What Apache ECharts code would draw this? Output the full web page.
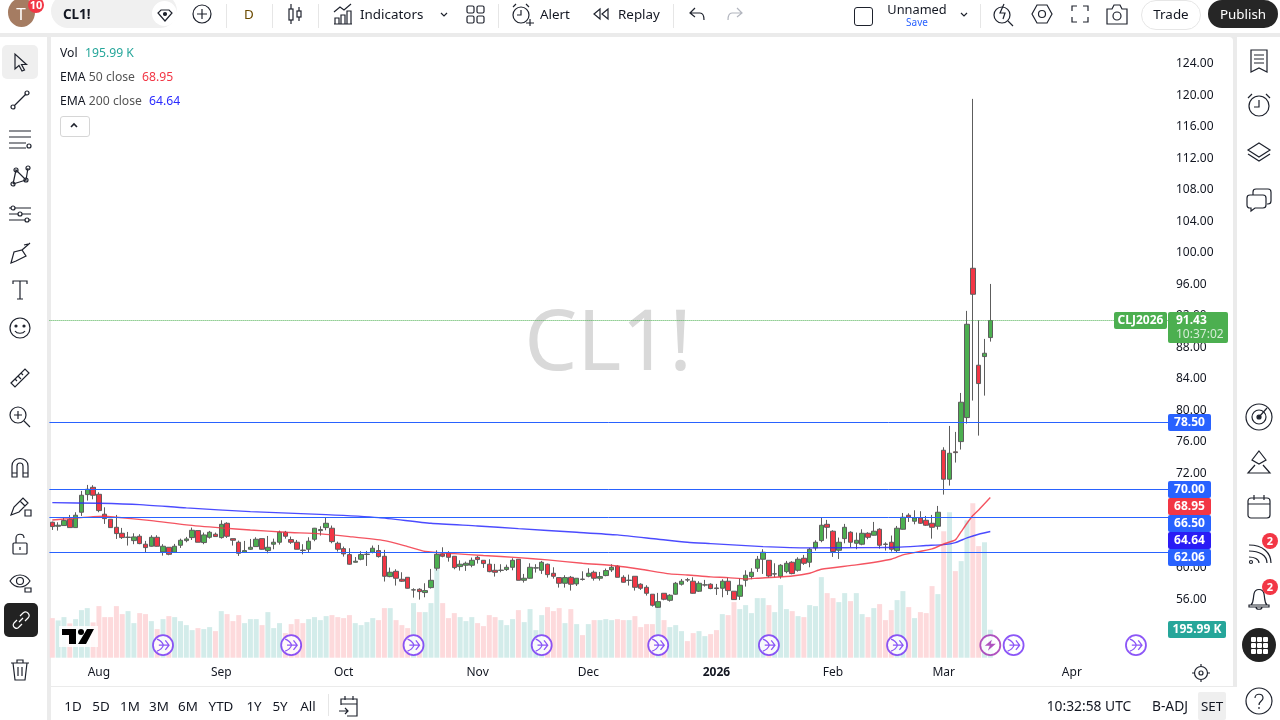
<!DOCTYPE html>
<html>
<head>
<meta charset="utf-8">
<title>CL1!</title>
<script src="https://cdn.jsdelivr.net/npm/echarts@6/dist/echarts.min.js"></script>
<style>
html, body { margin: 0; padding: 0; width: 1280px; height: 720px; overflow: hidden; background: #ebebeb; font-family: "Noto Sans", sans-serif; color: #131722; }
#panel { position: absolute; left: 51px; top: 37px; width: 1182px; height: 649px; background: #fff; border-radius: 0 4px 0 0; }
#top { position: absolute; left: 0; top: 0; width: 1280px; height: 33px; background: #fff; overflow: hidden; }
#side { position: absolute; left: 0; top: 37px; width: 47px; height: 683px; background: #fff; }
#rightbar { position: absolute; left: 1237px; top: 37px; width: 43px; height: 683px; background: #fff; }
#bottom { position: absolute; left: 51px; top: 687px; width: 1229px; height: 33px; background: #fff; }
#chart { position: absolute; left: 0; top: 0; width: 1280px; height: 720px; }
#over { position: absolute; left: 0; top: 0; width: 1280px; height: 720px; pointer-events: none; }
#over span, #over div { position: absolute; white-space: nowrap; }
#over svg { position: absolute; fill: none; stroke: #1e222d; stroke-width: 1.2; overflow: visible; }
.t { font-size: 13.4px; line-height: 16px; transform: translate(-50%, -50%); }
.l { font-size: 12.2px; line-height: 16px; transform: translateY(-50%); color: #555; }
.sep { width: 1px; height: 24px; top: 4px; background: #e6e6e6; }
.badge { background: #f23645; color: #fff; border-radius: 50%; text-align: center; font-size: 11px; font-weight: bold; width: 16px; height: 16px; line-height: 16px; }
</style>
</head>
<body>
<div id="panel"></div>
<div id="bottom"></div>
<div id="chart"></div>
<div id="top"></div>
<div id="side"></div>
<div id="rightbar"></div>
<div id="over"></div>
<script>
// 数据
const opens = [
    65.81,65.30,65.39,66.19,65.13,67.08,69.32,70.25,69.36,66.83,
    66.19,65.17,64.41,63.88,63.48,64.03,63.02,62.76,63.90,62.04,
    62.63,62.00,62.89,63.48,63.86,64.75,63.23,63.90,64.29,63.86,
    65.68,63.73,63.27,62.00,62.38,62.72,63.73,62.21,63.02,63.27,
    64.54,63.61,63.27,62.27,62.38,63.65,64.75,65.13,65.05,63.14,
    62.46,61.70,60.73,61.11,61.72,62.00,62.21,61.49,58.91,59.58,
    58.57,58.82,57.20,57.30,56.88,57.51,59.97,61.79,61.91,61.49,
    60.18,60.35,60.35,61.36,60.98,60.48,59.71,59.69,59.80,60.09,
    61.11,58.44,58.70,59.99,59.71,60.48,59.33,58.78,58.06,58.82,
    57.98,58.59,58.95,59.46,58.70,59.04,59.76,60.22,58.82,58.42,
    58.95,57.94,57.55,56.67,55.01,56.79,55.90,56.67,57.94,58.51,
    58.32,57.05,57.83,57.94,57.47,57.43,58.32,57.05,56.41,58.44,
    58.91,59.97,61.11,60.98,59.23,58.95,59.54,60.73,59.71,61.24,
    60.73,62.55,63.48,65.55,64.67,62.25,63.73,64.54,63.14,63.02,
    64.41,64.16,64.92,63.04,63.27,62.21,64.92,66.70,65.94,66.36,
    66.06,65.68,65.30,74.95,71.27,74.75,76.05,79.10,98.06,85.75,
    86.85,89.26
];
const closes = [
    65.26,65.43,66.02,65.13,66.70,69.24,70.00,69.24,67.29,66.27,
    65.13,64.37,63.86,63.92,63.95,63.10,62.59,63.90,62.76,62.76,
    61.74,62.76,63.52,63.69,64.79,63.27,64.20,64.54,63.99,65.55,
    64.03,63.52,61.87,62.21,62.63,63.65,62.38,62.63,63.27,64.54,
    64.03,63.27,62.38,62.23,63.40,65.05,64.88,65.68,63.35,62.38,
    61.79,60.48,60.86,61.70,61.76,62.51,61.45,58.95,59.46,58.70,
    58.32,57.43,57.24,57.00,57.13,58.44,61.74,61.49,61.36,60.05,
    60.48,60.60,60.98,61.07,60.56,59.54,59.46,59.73,60.09,60.98,
    58.44,58.70,60.09,60.03,60.73,59.16,58.95,58.06,58.78,57.94,
    58.70,58.55,59.33,58.70,58.91,59.67,60.09,58.82,58.19,58.46,
    57.55,57.43,56.79,55.27,55.73,56.03,56.54,58.06,58.32,58.47,
    56.79,58.06,57.87,57.39,57.39,58.32,57.13,55.99,57.81,59.08,
    59.46,61.11,62.00,58.99,59.27,60.35,60.60,59.29,61.11,60.60,
    62.38,63.27,65.43,65.17,62.09,63.27,65.17,63.27,63.52,64.41,
    63.90,64.67,62.89,63.00,62.38,65.05,66.44,66.44,66.36,65.68,
    65.43,65.17,67.08,71.27,74.57,74.65,81.05,90.95,94.76,83.42,
    87.27,91.43
];
const highs = [
    65.89,65.81,66.40,66.74,67.08,69.79,70.55,70.51,69.62,67.71,
    66.19,66.74,65.09,64.58,64.41,64.29,63.44,64.16,64.16,63.02,
    62.63,63.06,63.73,63.95,65.13,64.75,64.50,64.71,64.50,66.06,
    65.81,63.73,63.48,63.44,63.69,63.90,63.73,64.07,63.73,64.75,
    64.71,63.99,63.56,63.02,63.90,65.09,65.30,66.36,65.39,63.35,
    62.72,62.51,61.39,62.13,62.17,62.85,62.93,62.30,60.05,59.84,
    59.46,58.82,57.43,57.43,58.06,59.88,62.25,62.63,62.13,61.49,
    60.98,60.81,61.32,61.53,60.98,61.11,60.52,60.48,60.43,61.24,
    61.11,59.25,60.60,60.48,60.90,60.56,60.09,58.78,59.08,58.99,
    58.70,59.58,59.97,59.67,59.50,59.93,60.48,60.35,59.08,59.16,
    58.95,58.06,57.81,56.67,56.84,56.79,56.67,58.23,58.61,58.74,
    58.82,58.32,58.49,58.06,57.98,58.57,58.78,57.05,58.70,59.71,
    59.97,61.53,62.38,60.98,60.60,60.48,60.90,60.86,61.36,61.66,
    62.55,63.52,66.40,66.11,64.79,63.86,65.60,64.67,64.50,64.92,
    64.54,65.85,65.05,63.27,64.12,65.34,66.99,66.95,67.33,67.21,
    66.61,66.74,67.88,75.33,78.04,77.28,82.23,92.65,119.57,91.46,
    89.09,96.07
];
const lows = [
    64.83,64.75,65.39,65.13,65.13,66.61,68.56,68.73,67.08,65.60,
    65.13,63.69,63.69,62.85,63.02,63.02,62.00,62.72,62.72,61.57,
    61.62,62.00,62.55,63.27,63.56,63.27,63.02,63.73,63.99,63.73,
    63.82,62.85,61.53,61.96,62.30,62.72,62.34,61.87,62.38,62.97,
    63.73,63.06,62.38,61.74,62.00,63.40,64.12,64.79,63.14,62.09,
    61.45,60.43,60.69,60.98,60.26,61.87,61.32,58.28,58.82,57.77,
    58.23,57.39,56.24,55.99,56.28,57.39,59.67,61.36,60.81,59.84,
    59.67,59.63,60.09,60.56,60.01,59.46,58.91,59.46,59.63,59.71,
    58.44,58.15,58.65,59.42,59.25,58.78,58.65,57.51,57.51,57.13,
    57.72,58.40,58.82,58.40,58.40,58.95,59.50,58.82,58.15,57.77,
    57.13,57.22,56.50,55.10,54.97,55.90,55.73,56.62,57.77,58.23,
    56.75,56.96,57.64,57.30,56.58,56.28,56.58,55.95,55.95,57.64,
    58.57,59.50,59.25,58.78,58.82,58.65,59.33,59.20,59.54,60.39,
    60.09,62.21,63.27,63.73,61.41,61.15,63.14,62.63,62.38,62.89,
    63.65,64.12,62.46,62.21,62.09,62.00,64.88,65.85,65.55,65.60,
    65.34,63.73,64.88,69.32,70.47,73.39,75.04,78.34,81.26,76.81,
    81.89,88.75
];
// 成交量 (K)
const volumes = [
    277,261,284,240,270,333,347,247,361,284,
    284,361,305,326,242,312,305,256,200,270,
    291,284,256,228,193,207,200,214,186,326,
    305,256,298,242,270,270,228,319,207,242,
    172,235,270,242,270,284,263,291,298,284,
    277,298,242,228,249,277,263,347,347,263,
    228,207,382,319,319,382,620,382,277,312,
    284,256,284,242,221,298,284,263,228,270,
    333,249,340,193,298,354,326,347,242,340,
    235,158,235,263,263,270,263,270,263,263,
    291,214,235,235,361,263,214,228,186,116,
    172,186,151,165,193,305,298,389,340,368,
    312,417,417,368,319,508,340,326,291,284,
    368,361,564,452,417,389,452,396,452,305,
    284,347,375,263,333,403,466,354,277,319,
    312,501,445,885,1018,606,676,962,1081,781,
    808,196
];
// EMA 读数
const ema50Bars = [0,3,7,9,11,17,23,29,34,40,46,51,57,61,64,69,74,80,85,91,97,101,106,109,113,116,119,121,127,130,132,138,144,146,151,153,155,156,157,158,159,161];
const ema50Values = [66.10,66.27,66.53,66.57,66.44,66.02,65.47,65.09,64.83,64.54,64.33,63.99,63.48,62.72,62.09,61.83,61.58,61.32,61.03,60.60,60.26,59.84,59.25,59.12,58.87,58.78,58.61,58.70,58.99,59.33,59.84,60.39,61.11,61.66,62.42,63.06,63.57,64.62,65.68,66.66,67.37,68.95];
const ema200Bars = [0,8,15,23,34,47,56,65,73,80,90,97,104,109,113,122,130,140,145,150,153,155,157,159,161];
const ema200Values = [68.30,68.22,68.05,67.63,67.16,66.78,66.40,65.68,65.34,65.00,64.54,64.20,63.65,63.27,63.10,62.72,62.55,62.59,62.63,62.85,62.97,63.23,63.82,64.29,64.64];
// 水平线
const levels = [78.50, 70.00, 66.50, 62.06];
const lastPrice = 91.43;
// 坐标轴
const priceTicks = [56,60,64,68,72,76,80,84,88,92,96,100,104,108,112,116,120,124];
const monthBars = [8,29,50,73,92,114,134,153,175];
const monthNames = ['Aug','Sep','Oct','Nov','Dec','2026','Feb','Mar','Apr'];
const barCount = 192;
const eventBars = [19,41,62,84,104,123,145,165,186];
const flashBars = [161];

const categories = new Array(barCount).fill('');
monthBars.forEach((b, i) => { categories[b] = monthNames[i]; });

const GREEN = '#4caf50', RED = '#f23645', WICK = '#5d5d5d', BLUE = '#2962ff';
const FONT = '"Noto Sans", sans-serif';
const ARROW = 'path://M1 3C5 4 7 6 8 8C7 10 5 12 1 13M3 8H14M10 4L14 8L10 12';
const BOLT = 'path://M9 0L2 9H7L5 16L13 6H8Z';

// 价格标签
function tag(x, y, w, h, bg, text, opts) {
    opts = opts || {};
    return [
        { type: 'rect', z: 100, shape: { x: x, y: y, width: w, height: h, r: 2 }, style: { fill: bg } },
        { type: 'text', z: 101, style: { x: x + (opts.tx || w / 2), y: y + (opts.ty || h / 2), text: text, fill: opts.color || '#fff',
            font: 'bold 12px ' + FONT, textAlign: opts.tx ? 'left' : 'center', textVerticalAlign: 'middle' } }
    ];
}

const tags = [].concat(
    tag(1114, 312, 53, 17, GREEN, 'CLJ2026'),
    tag(1168, 312, 60, 31, GREEN, '91.43', { tx: 8, ty: 9 }),
    [{ type: 'text', z: 101, style: { x: 1176, y: 335, text: '10:37:02', fill: '#d5ecd6', font: '12px ' + FONT, textVerticalAlign: 'middle' } }],
    tag(1168, 414, 43, 17, BLUE, '78.50'),
    tag(1168, 481, 43, 17, BLUE, '70.00'),
    tag(1168, 498, 43, 17, RED, '68.95'),
    tag(1168, 515, 43, 17, BLUE, '66.50'),
    tag(1168, 532, 43, 17, '#2a1cf5', '64.64'),
    tag(1168, 549, 43, 17, BLUE, '62.06'),
    tag(1168, 621, 58, 17, '#26a69a', '195.99 K')
);

const chart = echarts.init(document.getElementById('chart'));
chart.setOption({
    animation: false,
    textStyle: { fontFamily: FONT },
    grid: [
        { left: 49.4, width: 1118.6, top: 32.5, height: 630 },
        { left: 49.4, width: 1118.6, top: 497.7, height: 160 }
    ],
    xAxis: [
        { type: 'category', gridIndex: 0, data: categories, show: false },
        {
            type: 'category', gridIndex: 1, data: categories,
            axisLine: { show: false }, axisTick: { show: false },
            axisLabel: {
                interval: 0, margin: 9, color: '#131722', fontSize: 12, fontFamily: FONT,
                formatter: v => v === '2026' ? '{b|2026}' : v,
                rich: { b: { fontWeight: 'bold', fontSize: 12, fontFamily: FONT, color: '#131722' } }
            }
        }
    ],
    yAxis: [
        {
            type: 'value', gridIndex: 0, position: 'right', min: 48, max: 128, interval: 4,
            axisLine: { show: false }, axisTick: { show: false }, splitLine: { show: false },
            axisLabel: { customValues: priceTicks, margin: 8, padding: [2, 0, 0, 0], color: '#131722', fontSize: 12, fontFamily: FONT, formatter: v => v.toFixed(2) }
        },
        { type: 'value', gridIndex: 1, min: 0, max: 1120, show: false }
    ],
    graphic: [
        { type: 'text', z: 0, style: { x: 608, y: 346, text: 'CL1!', fill: '#d9d9d9', font: '84px ' + FONT, textAlign: 'center', textVerticalAlign: 'middle' } }
    ].concat(tags),
    series: [
        {
            name: 'Vol', type: 'bar', xAxisIndex: 1, yAxisIndex: 1, barWidth: 5, z: 1, silent: true,
            data: volumes.map((v, i) => ({ value: v, itemStyle: { color: closes[i] >= opens[i] ? '#d3ecea' : '#fddadc' } }))
        },
        {
            name: 'CL1!', type: 'candlestick', barWidth: 5, z: 2,
            itemStyle: { color: GREEN, color0: RED, borderColor: WICK, borderColor0: WICK, borderWidth: 1 },
            data: opens.map((o, i) => [o, closes[i], lows[i], highs[i]]),
            markLine: {
                silent: true, symbol: 'none', animation: false, label: { show: false },
                data: levels.map(v => ({ yAxis: v, lineStyle: { color: BLUE, width: 1, type: 'solid' } }))
                    .concat([{ yAxis: lastPrice, lineStyle: { color: GREEN, width: 1, type: 'dotted' } }])
            }
        },
        {
            name: 'EMA 200', type: 'line', z: 3, showSymbol: false, smooth: 0.2, silent: true,
            lineStyle: { color: '#2b2bff', width: 1.4, opacity: 0.85 },
            data: ema200Bars.map((b, i) => [b, ema200Values[i]])
        },
        {
            name: 'EMA 50', type: 'line', z: 3, showSymbol: false, smooth: 0.2, silent: true,
            lineStyle: { color: RED, width: 1.4, opacity: 0.85 },
            data: ema50Bars.map((b, i) => [b, ema50Values[i]])
        },
        {
            name: 'events', type: 'scatter', xAxisIndex: 1, yAxisIndex: 1, z: 5, silent: true, symbol: 'circle', symbolSize: 20,
            itemStyle: { color: '#fff', borderColor: '#6f2cf5', borderWidth: 1.8 },
            data: eventBars.map(b => [b, 88])
        },
        {
            name: 'eventArrows', type: 'scatter', xAxisIndex: 1, yAxisIndex: 1, z: 6, silent: true, symbol: ARROW, symbolSize: 12,
            itemStyle: { color: 'none', borderColor: '#6f2cf5', borderWidth: 1.3 },
            data: eventBars.map(b => [b, 88])
        },
        {
            name: 'flash', type: 'scatter', xAxisIndex: 1, yAxisIndex: 1, z: 5, silent: true, symbol: 'circle', symbolSize: 20,
            itemStyle: { color: '#fff', borderColor: '#9c27b0', borderWidth: 1.8 },
            data: flashBars.map(b => [b, 88])
        },
        {
            name: 'flashBolt', type: 'scatter', xAxisIndex: 1, yAxisIndex: 1, z: 6, silent: true, symbol: BOLT, symbolSize: 11,
            itemStyle: { color: '#9c27b0' },
            data: flashBars.map(b => [b, 88])
        }
    ]
});

// 工具栏
const over = document.getElementById('over');
function add(html) { over.insertAdjacentHTML('beforeend', html); }
function text(x, y, s, style) { add(`<span class="t" style="left:${x}px;top:${y}px;${style || ''}">${s}</span>`); }
function left(x, y, s, style) { add(`<span class="l" style="left:${x}px;top:${y}px;${style || ''}">${s}</span>`); }
function box(x, y, w, h, style) { add(`<div style="left:${x}px;top:${y}px;width:${w}px;height:${h}px;${style}"></div>`); }
function icon(x, y, inner, style) { add(`<svg width="24" height="24" viewBox="0 0 24 24" style="left:${x - 12}px;top:${y - 12}px;${style || ''}">${inner}</svg>`); }
function sep(x) { add(`<div class="sep" style="left:${x}px"></div>`); }
function badge(x, y, s) { add(`<div class="badge" style="left:${x - 8}px;top:${y - 8}px">${s}</div>`); }

// 顶部
box(8, -2, 27, 29, 'background:#a57c62;border-radius:50%');
text(21, 14, 'T', 'color:#fff;font-size:17px');
badge(36, 5, '10');
box(51, -6, 126, 34, 'background:#f0f0f0;border-radius:17px');
left(63, 14, 'CL1!', 'font-size:13.4px;font-weight:bold;color:#131722');
box(152, 1, 25, 25, 'background:#fff;border-radius:50%');
icon(165, 14, '<path d="M8 8H16L19 11L12 19L5 11Z"/><circle cx="12" cy="12" r="1.5" fill="#1e222d"/>');
icon(202, 14, '<circle cx="12" cy="12" r="9"/><path d="M12 7V17M7 12H17"/>');
sep(226);
text(249, 14, 'D', 'color:#6b4a00');
sep(272);
icon(295, 14, '<path d="M8 2V22M16 5V19"/><rect x="6" y="7" width="4" height="11" fill="#fff"/><rect x="14" y="9" width="4" height="6" fill="#fff"/>');
sep(318);
icon(343, 14, '<path d="M3 10L9 5L13 8L20 2M4 22V16H8V22M10 22V13H14V22M16 22V9H20V22M3 22H21"/>');
left(360, 14, 'Indicators', 'font-size:13.4px;color:#131722');
icon(444, 14, '<path d="M9 11L12 14L15 11"/>');
icon(475, 14, '<rect x="4" y="4" width="7" height="7" rx="1.5"/><rect x="14" y="4" width="7" height="7" rx="1.5"/><rect x="4" y="14" width="7" height="7" rx="1.5"/><rect x="14" y="14" width="7" height="7" rx="1.5"/>');
sep(498);
icon(522, 14, '<circle cx="11" cy="13" r="8"/><path d="M11 8V13H7M3 5L6 2M19 5L16 2M16 21H24M20 17V24"/>');
left(540, 14, 'Alert', 'font-size:13.4px;color:#131722');
icon(601, 14, '<path d="M11 7L5 12L11 17ZM19 7L13 12L19 17Z"/>');
left(618, 14, 'Replay', 'font-size:13.4px;color:#131722');
sep(673);
icon(697, 14, '<path d="M10 6L5 11L10 15M5 11H15C18 11 19 14 19 18"/>');
icon(735, 14, '<path d="M14 6L19 11L14 15M19 11H9C6 11 5 14 5 18"/>', 'stroke:#b2b5be');
box(854, 7, 17, 17, 'border:1.3px solid #1e222d;border-radius:3px');
text(917, 9, 'Unnamed', 'font-size:12.8px;color:#131722');
text(917, 21.5, 'Save', 'font-size:10px;line-height:12px;color:#2962ff');
icon(964, 14, '<path d="M9 11L12 14L15 11"/>');
sep(980);
icon(1004, 14, '<circle cx="10" cy="13" r="8"/><path d="M16 19L21 24M12 2L8 11H13L11 17"/>');
icon(1042, 14, '<path d="M7 3H17L22 12L17 21H7L2 12Z"/><circle cx="12" cy="12" r="3.5"/>');
icon(1080, 14, '<path d="M4 9V4H9M15 4H20V9M20 15V20H15M9 20H4V15"/>');
icon(1117, 14, '<path d="M2 7H7L9 3H15L17 7H22V22H2Z"/><circle cx="12" cy="14" r="4"/>');
box(1141, 0, 58, 28, 'border:1px solid #e6e6e6;border-radius:15px');
text(1171, 14, 'Trade');
box(1208, 0, 70, 28, 'background:#262626;border-radius:15px');
text(1243, 14, 'Publish', 'color:#fff');

// 图例
left(60, 53, 'Vol', 'color:#131722');
left(85, 53, '195.99 K', 'color:#26a69a');
left(60, 77, '<span style="position:static;color:#131722">EMA</span> 50 close');
left(142, 77, '68.95', 'color:#f23645');
left(60, 101, '<span style="position:static;color:#131722">EMA</span> 200 close');
left(149, 101, '64.64', 'color:#2b2bff');
box(60, 116, 28, 19, 'border:1px solid #d6d6d6;border-radius:3px;background:#fff');
icon(74, 126, '<path d="M9 13L12 10L15 13" stroke-width="1.6"/>');

// 左侧工具
box(2, 45, 36, 34, 'background:#efefef;border-radius:5px');
icon(20, 62, '<path d="M7 4V19L11 15.5L14 21L16.5 20L13.5 14.5H18.5Z"/>');
icon(20, 100, '<path d="M6 18L18 6"/><circle cx="19" cy="5" r="2"/><circle cx="5" cy="19" r="2"/>');
icon(20, 138, '<path d="M1 5H23M1 11H23M1 17H18M1 22H18"/><circle cx="21" cy="20" r="2"/>');
icon(20, 176, '<path d="M5 20L8 6L18 16L20 4M5 20L18 16"/><circle cx="5" cy="20" r="2"/><circle cx="8" cy="6" r="2"/><circle cx="18" cy="16" r="2"/><circle cx="20" cy="4" r="2"/>');
icon(20, 214, '<path d="M1 6H23M1 12H23M1 18H23"/><circle cx="5" cy="6" r="2" fill="#fff"/><circle cx="12" cy="12" r="2" fill="#fff"/><circle cx="19" cy="18" r="2" fill="#fff"/>');
icon(20, 253, '<path d="M3 22L6 11L14 9L18 15L8 20ZM14 9L22 2M16 4L20 3"/>');
icon(20, 290, '<path d="M5 6V3H19V6M12 3V21M9 21H15"/>');
icon(20, 328, '<circle cx="12" cy="12" r="10"/><circle cx="8" cy="10" r="1" fill="#1e222d"/><circle cx="16" cy="10" r="1" fill="#1e222d"/><path d="M7 15C9 18 15 18 17 15"/>');
icon(20, 378, '<path d="M3 17L17 3L21 7L7 21ZM7 13L9 15M10 10L13 13M13 7L15 9"/>');
icon(20, 417, '<circle cx="10" cy="10" r="8"/><path d="M16 16L22 22M6 10H14M10 6V14"/>');
icon(20, 467, '<path d="M4 22V11C4 1 20 1 20 11V22H15V11C15 7 9 7 9 11V22ZM4 18H9M15 18H20"/>');
icon(20, 506, '<path d="M3 21L6 13L15 4L20 9L11 18ZM12 7L17 12M17 16H23V22H17Z"/>');
icon(20, 544, '<rect x="5" y="11" width="14" height="11" rx="1"/><path d="M8 11V6C8 1 16 1 16 6M12 15V18"/>');
icon(20, 581, '<path d="M2 12C7 4 17 4 22 12C17 20 7 20 2 12Z"/><circle cx="12" cy="12" r="3.5"/><path d="M17 19H23V23H17Z"/>');
box(4, 603, 34, 34, 'background:#222;border-radius:5px');
icon(21, 620, '<path d="M10 14L14 10M8 12L5 15C2 19 8 22 10 19L13 16M11 8L14 5C18 2 22 7 19 10L16 13" />', 'stroke:#fff');
icon(20, 670, '<path d="M3 5H21M9 5V2H15V5M5 5L7 22H17L19 5M10 9V18M14 9V18"/>');

// 右侧工具
icon(1259, 61, '<path d="M4 1H20V23L12 19L4 23ZM7 6H17M7 10H17M7 14H17"/>');
icon(1259, 105, '<circle cx="12" cy="13" r="10"/><path d="M12 7V14H7M1 5L5 1M23 5L19 1"/>');
icon(1259, 152, '<path d="M12 3L23 10L12 17L1 10ZM1 14L12 21L23 14"/>');
icon(1259, 199, '<path d="M6 8V5C6 3 7 2 9 2H21C23 2 24 3 24 5V14C24 16 23 17 21 17H20M3 8H16C18 8 19 9 19 11V18C19 20 18 21 16 21H8L4 24V21H3C1 21 0 20 0 18V11C0 9 1 8 3 8Z"/>');
icon(1259, 417, '<circle cx="12" cy="12" r="13"/><circle cx="12" cy="12" r="7"/><circle cx="12" cy="12" r="2" fill="#1e222d"/><path d="M12 12L20 3"/>');
icon(1259, 462, '<path d="M12 1L19 10L12 14L5 10ZM8 15L1 23H23L16 15"/>');
icon(1259, 506, '<rect x="1" y="4" width="22" height="20" rx="3"/><path d="M1 10H23M7 1V6M17 1V6"/>');
icon(1259, 551, '<path d="M2 12C12 12 20 16 20 24M2 6C16 6 24 14 24 24M2 18C7 18 12 20 12 24"/><circle cx="4" cy="23" r="1.5"/>');
badge(1270, 541, '2');
icon(1259, 597, '<path d="M4 20C7 17 6 13 7 9C8 3 16 3 17 9C18 13 17 17 20 20ZM2 20H22V22H2ZM9 22C9 25 15 25 15 22"/>');
badge(1270, 587, '2');
box(1242, 628, 34, 34, 'background:#222;border-radius:50%');
for (let r = 0; r < 3; r++) {
    for (let c = 0; c < 3; c++) box(1251 + c * 6, 637 + r * 6, 4.5, 4.5, 'background:#fff;border-radius:1px');
}
icon(1259, 701, '<circle cx="12" cy="12" r="13"/><path d="M8 9C8 4 16 4 16 9C16 12 12 12 12 16M12 18V20"/>');

// 底部
[['1D', 73], ['5D', 101], ['1M', 130], ['3M', 159], ['6M', 188], ['YTD', 221], ['1Y', 254], ['5Y', 280], ['All', 308]].forEach(r => {
    text(r[1], 706, r[0], 'font-size:13.4px;color:#131722');
});
box(328, 694, 1, 22, 'background:#e6e6e6');
icon(350, 706, '<path d="M3 11V5H19V22H9M3 10H19M7 2V6M15 2V6M1 17H10M7 14L10 17L7 20"/>');
text(1089, 706, '10:32:58 UTC', 'font-size:13.8px;color:#131722');
text(1170, 706, 'B-ADJ', 'font-size:13.8px;color:#131722');
box(1198, 692, 28, 28, 'background:#efefef;border-radius:2px');
text(1212, 706, 'SET', 'font-size:13.4px;color:#131722');
icon(1201, 673, '<circle cx="12" cy="12" r="6.5"/><circle cx="12" cy="12" r="2"/><path d="M12 5V3M12 21V19M5 12H3M21 12H19"/>');

// TradingView 标志
box(59, 626, 39, 21, 'background:rgba(255,255,255,0.85)');
add('<svg width="32" height="15" viewBox="0 0 32 15" style="left:62px;top:629px;fill:#000;stroke:none"><path d="M0 0H14V15H7V6H0ZM25 0H32L24 15H16Z"/><circle cx="19" cy="3" r="3"/></svg>');
</script>
</body>
</html>
